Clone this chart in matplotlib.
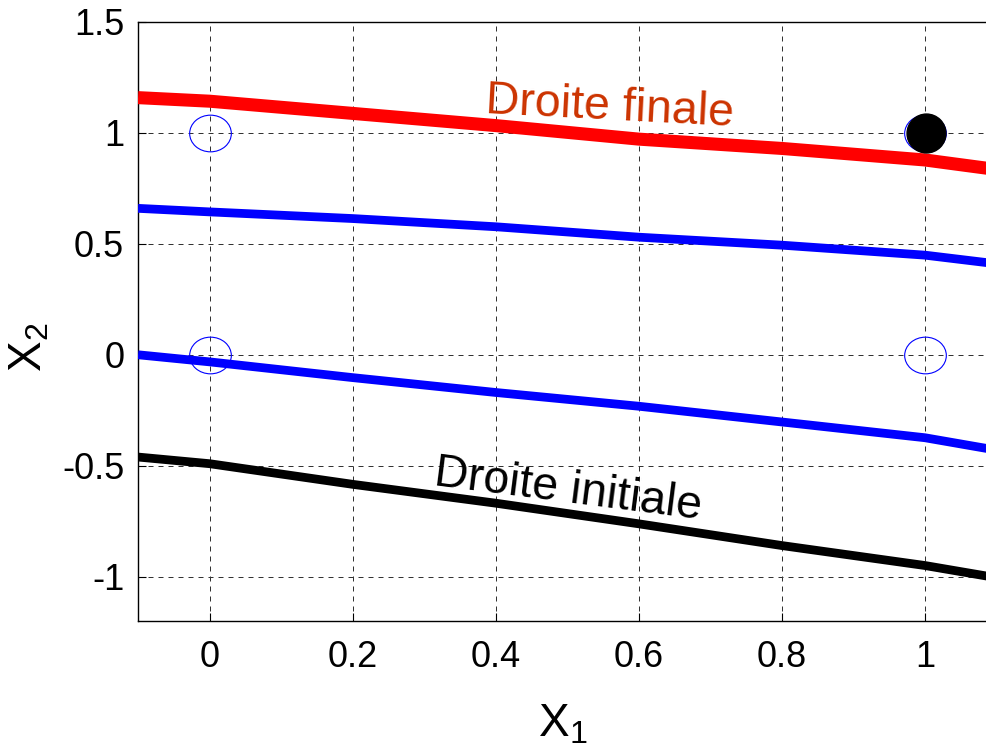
import matplotlib
matplotlib.use("Agg")
import matplotlib.pyplot as plt
from matplotlib.path import Path
from matplotlib.transforms import Affine2D

plt.rcParams['font.family'] = ['Liberation Sans', 'DejaVu Sans']
plt.rcParams['axes.unicode_minus'] = False
plt.rcParams['mathtext.fontset'] = 'custom'
plt.rcParams['mathtext.rm'] = 'Liberation Sans'
plt.rcParams['mathtext.it'] = 'Liberation Sans'

# ---- data ----
x1 = [-0.1, 0.0, 0.2, 0.4, 0.6, 0.8, 1.0, 1.1]
droite_finale = [1.159, 1.143, 1.088, 1.033, 0.972, 0.930, 0.878, 0.835]
droite_inter1 = [0.660, 0.644, 0.614, 0.577, 0.530, 0.494, 0.449, 0.410]
droite_inter2 = [0.000, -0.032, -0.103, -0.170, -0.232, -0.303, -0.374, -0.430]
droite_initiale = [-0.461, -0.491, -0.584, -0.669, -0.762, -0.860, -0.950, -1.005]

pts_x = [0, 0, 1, 1]
pts_y = [0, 1, 0, 1]
black_x = [1.002]
black_y = [1.0]

xticks = [0, 0.2, 0.4, 0.6, 0.8, 1]
xticklabels = ['0', '0.2', '0.4', '0.6', '0.8', '1']
yticks = [-1, -0.5, 0, 0.5, 1, 1.5]
yticklabels = ['-1', '-0.5', '0', '0.5', '1', '1.5']

# ---- figure ----
fig = plt.figure(figsize=(9.86, 7.48), dpi=100)
ax = fig.add_axes([0.140, 0.1698, 0.8707, 0.8008])
ax.set_xlim(-0.1, 1.1)
ax.set_ylim(-1.2, 1.5)

ax.grid(True, color='#333333', linestyle=(0, (5, 5)), linewidth=0.72)
ax.set_axisbelow(True)

ax.plot(x1, droite_finale, color='#ff0000', lw=9.4, solid_capstyle='butt', zorder=3)
ax.plot(x1, droite_inter1, color='#0000ff', lw=6.3, solid_capstyle='butt', zorder=3)
ax.plot(x1, droite_inter2, color='#0000ff', lw=6.3, solid_capstyle='butt', zorder=3)
ax.plot(x1, droite_initiale, color='#000000', lw=6.3, solid_capstyle='butt', zorder=3)

ellipse = Path.unit_circle().transformed(Affine2D().scale(1.0, 0.88))
ax.plot(pts_x, pts_y, linestyle='none', marker=ellipse, markersize=30,
        markerfacecolor='none', markeredgecolor='#0000ff', markeredgewidth=0.8, zorder=4)
ax.plot(black_x, black_y, linestyle='none', marker='o', markersize=28,
        markerfacecolor='black', markeredgecolor='black', zorder=5)

ax.text(0.385, 1.091, 'Droite finale', color='#cc3300', fontsize=33.5,
        rotation=-3, rotation_mode='anchor', ha='left', va='baseline', zorder=6)
ax.text(0.312, -0.589, 'Droite initiale', color='black', fontsize=33.5,
        rotation=-7.3, rotation_mode='anchor', ha='left', va='baseline', zorder=6)

ax.set_xticks(xticks)
ax.set_xticklabels(xticklabels)
ax.set_yticks(yticks)
ax.set_yticklabels(yticklabels)
ax.tick_params(direction='in', length=6, width=0.8, labelsize=26, pad=10,
               top=False, right=False)
ax.tick_params(axis='x', pad=14)

for s in ax.spines.values():
    s.set_linewidth(1.0)
    s.set_color('black')

ax.set_xlabel(r'$\mathregular{X_1}$', fontsize=33, va='center')
ax.xaxis.set_label_coords(0.495, -0.172)
ax.set_ylabel(r'$\mathregular{X_2}$', fontsize=33, va='center')
ax.yaxis.set_label_coords(-0.126, 0.457)

fig.savefig('out.png', dpi=100)
